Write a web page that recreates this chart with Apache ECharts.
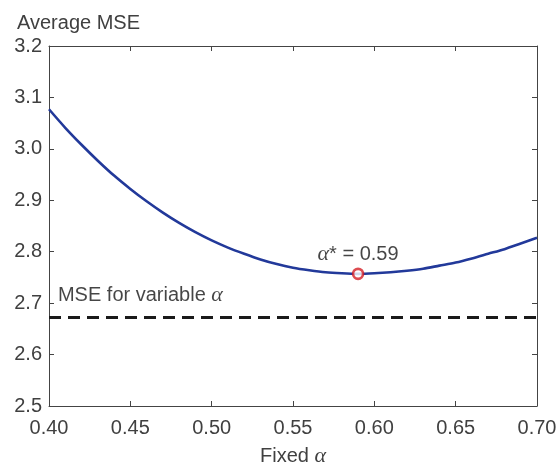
<!DOCTYPE html>
<html>
<head>
<meta charset="utf-8">
<style>
  html, body { margin: 0; padding: 0; background: #fff; }
  #chart { width: 560px; height: 468px; }
</style>
<script src="https://cdn.jsdelivr.net/npm/echarts@6/dist/echarts.min.js"></script>
</head>
<body>
<div id="chart"></div>
<script>
// Fixed smoothing parameter alpha and the resulting average MSE
const alphas = [0.40, 0.41, 0.42, 0.43, 0.44, 0.45, 0.46, 0.47, 0.48, 0.49,
                0.50, 0.51, 0.52, 0.53, 0.54, 0.55, 0.56, 0.57, 0.58, 0.59,
                0.60, 0.61, 0.62, 0.63, 0.64, 0.65, 0.66, 0.67, 0.68, 0.69, 0.70];
const avgMse = [3.077, 3.041, 3.008, 2.977, 2.948, 2.922, 2.898, 2.876, 2.856, 2.838,
                2.822, 2.808, 2.796, 2.785, 2.776, 2.769, 2.764, 2.760, 2.758, 2.757,
                2.758, 2.760, 2.763, 2.767, 2.773, 2.779, 2.787, 2.796, 2.805, 2.816, 2.827];

// Optimal fixed alpha
const alphaStar = 0.59;
const mseStar = 2.757;

// MSE obtained with a time-varying alpha
const variableMse = 2.672;

// Axis ticks
const xTicks = [0.40, 0.45, 0.50, 0.55, 0.60, 0.65, 0.70];
const yTicks = [2.5, 2.6, 2.7, 2.8, 2.9, 3.0, 3.1, 3.2];

const sans = '"Liberation Sans", Arial, Helvetica, sans-serif';
const serif = '"Liberation Serif", "DejaVu Serif", serif';
const axisGrey = '#444444';
const labelGrey = '#404040';
const textBlack = '#161616';

const chart = echarts.init(document.getElementById('chart'), null, { renderer: 'canvas' });

const curve = alphas.map((a, i) => [a, avgMse[i]]);

const baseX = {
  type: 'value',
  min: xTicks[0],
  max: xTicks[xTicks.length - 1],
  interval: 0.05,
  axisLine: { show: true, lineStyle: { color: axisGrey, width: 1 } },
  axisTick: { show: true, inside: true, length: 5, lineStyle: { color: axisGrey } },
  splitLine: { show: false }
};
const baseY = {
  type: 'value',
  min: yTicks[0],
  max: yTicks[yTicks.length - 1],
  interval: 0.1,
  axisLine: { show: true, lineStyle: { color: axisGrey, width: 1 } },
  axisTick: { show: true, inside: true, length: 5, lineStyle: { color: axisGrey } },
  splitLine: { show: false }
};

const option = {
  animation: false,
  backgroundColor: '#ffffff',
  title: {
    text: 'Average MSE',
    left: 12,
    top: 8,
    textStyle: { fontFamily: sans, fontSize: 20, fontWeight: 'normal', color: labelGrey }
  },
  grid: {
    left: 49, right: 23, top: 46, bottom: 62,
    containLabel: false,
    outerBoundsMode: 'none'
  },
  xAxis: [
    Object.assign({}, baseX, {
      position: 'bottom',
      name: '{t|Fixed }{a|α}',
      nameLocation: 'middle',
      nameGap: 39,
      nameTextStyle: {
        rich: {
          t: { fontFamily: sans, fontSize: 20, color: labelGrey },
          a: { fontFamily: serif, fontStyle: 'italic', fontSize: 22, color: labelGrey }
        }
      },
      axisLabel: {
        margin: 12,
        fontFamily: sans, fontSize: 20, color: labelGrey,
        formatter: v => v.toFixed(2)
      }
    }),
    Object.assign({}, baseX, {
      position: 'top',
      axisLabel: { show: false }
    })
  ],
  yAxis: [
    Object.assign({}, baseY, {
      position: 'left',
      axisLabel: {
        margin: 7,
        fontFamily: sans, fontSize: 20, color: labelGrey,
        formatter: v => v.toFixed(1)
      }
    }),
    Object.assign({}, baseY, {
      position: 'right',
      axisLabel: { show: false }
    })
  ],
  series: [
    {
      name: 'Fixed alpha',
      type: 'line',
      data: curve,
      showSymbol: false,
      smooth: 0.3,
      lineStyle: { color: '#22399a', width: 2.6 },
      z: 3
    },
    {
      name: 'Variable alpha',
      type: 'line',
      data: [[xTicks[0], variableMse], [xTicks[xTicks.length - 1], variableMse]],
      showSymbol: false,
      lineStyle: { color: '#1a1a1a', width: 3, type: [12, 7] },
      z: 2
    },
    {
      name: 'Variable alpha label',
      type: 'scatter',
      data: [[0.4055, variableMse]],
      symbolSize: 0,
      silent: true,
      label: {
        show: true,
        position: 'top',
        align: 'left',
        distance: 11,
        formatter: '{t|MSE for variable }{a|α}',
        rich: {
          t: { fontFamily: sans, fontSize: 20, color: textBlack },
          a: { fontFamily: serif, fontStyle: 'italic', fontSize: 22, color: textBlack }
        }
      }
    },
    {
      name: 'Optimum',
      type: 'scatter',
      data: [[alphaStar, mseStar]],
      symbol: 'circle',
      symbolSize: 10,
      itemStyle: { color: '#ffffff', borderColor: '#d41f26', borderWidth: 2.6 },
      z: 5,
      label: {
        show: true,
        position: 'top',
        distance: 2,
        formatter: () => '{a|α}{t|* = ' + alphaStar.toFixed(2) + '}',
        rich: {
          t: { fontFamily: sans, fontSize: 20, color: textBlack },
          a: { fontFamily: serif, fontStyle: 'italic', fontSize: 22, color: textBlack }
        }
      }
    }
  ]
};

chart.setOption(option);
</script>
</body>
</html>
